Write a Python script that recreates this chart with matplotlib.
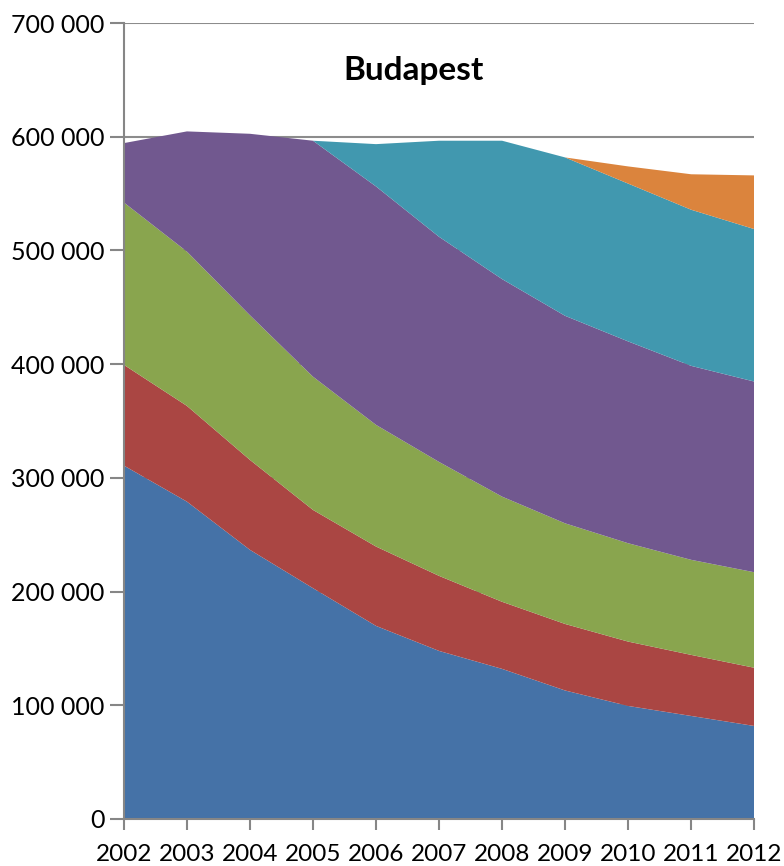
import matplotlib
matplotlib.use("Agg")
import matplotlib.pyplot as plt
from matplotlib.ticker import FuncFormatter

# Adatok (becsült értékek a képről, fő)
years = [2002, 2003, 2004, 2005, 2006, 2007, 2008, 2009, 2010, 2011, 2012]
s_blue = [310800, 279100, 236700, 203000, 169800, 147800, 132000, 113000, 99400, 90600, 81800]
s_red = [88600, 84200, 79100, 68800, 69800, 66000, 59000, 58500, 56600, 53700, 51200]
s_green = [142800, 135700, 127200, 117200, 107000, 100200, 92500, 88500, 86500, 83600, 84000]
s_purple = [52200, 105700, 159600, 207500, 209700, 198000, 191300, 182500, 177500, 170600, 167700]
s_teal = [0, 0, 0, 0, 37200, 84500, 121700, 139300, 138800, 137300, 134100]
s_orange = [0, 0, 0, 0, 0, 0, 0, 0, 15100, 31200, 47200]

colors = ["#4572A7", "#AA4643", "#89A54E", "#71588F", "#4198AF", "#DB843D"]
yticks = [0, 100000, 200000, 300000, 400000, 500000, 600000, 700000]

plt.rcParams["font.family"] = ["Lato", "DejaVu Sans"]

fig = plt.figure(figsize=(7.84, 8.66), dpi=100)
ax = fig.add_axes([0.158, 0.0543, 0.804, 0.9191])

ax.stackplot(years, s_blue, s_red, s_green, s_purple, s_teal, s_orange,
             colors=colors, linewidth=0, zorder=2)

ax.set_xlim(years[0], years[-1])
ax.set_ylim(0, 700000)
ax.set_xticks(years)
ax.set_yticks(yticks)
ax.yaxis.set_major_formatter(FuncFormatter(lambda v, p: f"{int(v):,}".replace(",", " ")))

ax.grid(axis="y", color="#8c8c8c", linewidth=1.5, zorder=0)
ax.set_axisbelow(True)

for side in ["top", "right"]:
    ax.spines[side].set_visible(False)
for side in ["left", "bottom"]:
    ax.spines[side].set_color("#868686")
    ax.spines[side].set_linewidth(1.5)
    ax.spines[side].set_zorder(3)

ax.tick_params(axis="y", length=10, width=1.5, color="#868686", labelsize=18, pad=4)
ax.tick_params(axis="x", length=8, width=1.5, color="#868686", labelsize=17.5, pad=10)

ax.text(0.46, 0.94, "Budapest", transform=ax.transAxes, ha="center", va="center",
        fontsize=24, fontweight="bold", zorder=4)

fig.savefig("out.png", dpi=100)
